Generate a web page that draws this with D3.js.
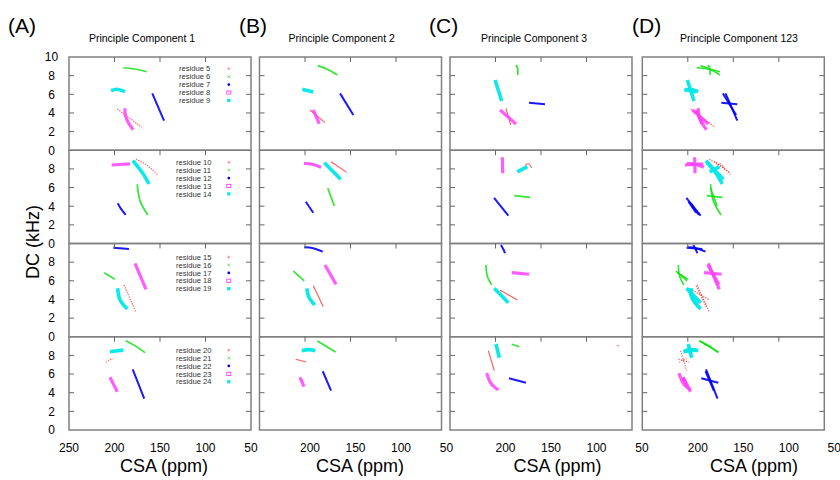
<!DOCTYPE html>
<html lang="en">
<head>
    <meta charset="UTF-8">
    <title>Principle components, CSA vs DC</title>
    <script src="https://d3js.org/d3.v7.min.js"></script>
    <style>
        body { margin: 0; background: #fff; }
        svg { font-family: "Liberation Sans", Arial, Helvetica, sans-serif; }
    </style>
</head>
<body>
    <div id="chart"></div>

    <script>
        // ---- data: [CSA (ppm), DC (kHz)] ----
        const titles = ["Principle Component 1", "Principle Component 2", "Principle Component 3", "Principle Component 123"];
        const letters = ["(A)", "(B)", "(C)", "(D)"];
        const residues = [[5, 6, 7, 8, 9], [10, 11, 12, 13, 14], [15, 16, 17, 18, 19], [20, 21, 22, 23, 24]];
        const xTicks = [200, 150, 100];
        const xLabelsFirst = [250, 200, 150, 100, 50];
        const xLabelsOther = [200, 150, 100, 50];
        const yTicks = [2, 4, 6, 8];
        const yLabelsTop = [10, 8, 6, 4, 2, 0];
        const yLabelsOther = [8, 6, 4, 2, 0];

        // each row: traces for the 5 residues in order (red, green, blue, magenta, cyan)
        const pc1 = [
            [
                [[196.9, 4.42], [170.1, 2.46]],
                [[190.3, 8.85], [177.5, 8.71], [164.6, 8.42]],
                [[158.5, 6.1], [145.6, 3.17]],
                [[188.5, 4.5], [188, 3.7], [185, 3.0], [179.5, 2.2]],
                [[203.8, 6.39], [197.6, 6.54], [188.5, 6.28]]
            ],
            [
                [[176.4, 9.03], [164.6, 8.42], [153, 7.42]],
                [[175, 6.35], [172, 4.6], [163.5, 3.06]],
                [[196.5, 4.31], [193.2, 3.77], [187.7, 3.06]],
                [[203.1, 8.42], [183, 8.53]],
                [[180, 8.88], [170.1, 7.7], [162.1, 6.38]]
            ],
            [
                [[189.6, 5.55], [176.4, 2.62]],
                [[211.2, 6.87], [199.5, 6.15]],
                [[201.3, 9.55], [184.1, 9.41]],
                [[177.5, 7.88], [165.4, 5.09]],
                [[196.5, 5.2], [194, 3.97], [185.9, 2.97]]
            ],
            [
                [[209.3, 7.24], [205, 7.55], [201.3, 7.64]],
                [[187.7, 9.58], [177.5, 9.05], [166.5, 8.29]],
                [[180, 6.51], [167.3, 3.36]],
                [[205, 5.65], [197, 4.11]],
                [[205, 8.4], [190.3, 8.58]]
            ]
        ];

        const pc2 = [
            [
                [[194.5, 4.32], [178, 2.96]],
                [[186, 9.07], [175.5, 8.68], [164.5, 8.07]],
                [[161.5, 6.1], [146.9, 3.78]],
                [[190.9, 4.32], [184.3, 2.82]],
                [[203, 6.54], [190.9, 6.25]]
            ],
            [
                [[171.4, 8.77], [154.2, 7.63]],
                [[175, 5.92], [167.8, 4.02]],
                [[199.2, 4.48], [190.9, 3.3]],
                [[201.1, 8.6], [192, 8.5], [182.4, 8.17]],
                [[178.8, 8.66], [160.8, 6.88]]
            ],
            [
                [[190.9, 5.47], [179.9, 3.22]],
                [[212.9, 7.05], [200.8, 5.98]],
                [[200.8, 9.59], [191, 9.5], [180.5, 9.12]],
                [[178, 7.69], [165.9, 5.62]],
                [[198.1, 5.19], [195.5, 4.2], [189.3, 3.4]]
            ],
            [
                [[210.2, 7.58], [198.9, 7.29]],
                [[186.5, 9.54], [166.3, 8.36]],
                [[180.5, 6.3], [171.4, 4.23]],
                [[205.5, 5.65], [201.1, 4.64]],
                [[203.6, 8.5], [196, 8.62], [188.7, 8.5]]
            ]
        ];

        const pc3 = [
            [
                [[188.5, 4.5], [183.3, 2.71]],
                [[177.5, 9.14], [175.5, 8.7], [175.6, 8.07]],
                [[163.2, 5.1], [145.6, 4.93]],
                [[195, 4.32], [177.5, 2.82]],
                [[200.5, 7.53], [193.2, 5.28]]
            ],
            [
                [[167.5, 8.4], [164, 8.55], [160.2, 8.13]],
                [[179.3, 5.13], [162.1, 4.95]],
                [[201.6, 4.88], [185.9, 2.98]],
                [[192.5, 9.24], [192.1, 7.53]],
                [[176, 7.69], [165, 8.24]]
            ],
            [
                [[195, 5.01], [176, 3.94]],
                [[210.4, 7.69], [209, 6.5], [204.2, 5.55]],
                [[194, 9.84], [191, 9.3], [189.6, 8.95]],
                [[182.2, 6.87], [162.9, 6.7]],
                [[201.3, 5.19], [185.9, 3.65]]
            ],
            [
                [[207.9, 8.5], [201.3, 6.36]],
                [[182.2, 9.19], [173.8, 8.93]],
                [[185.2, 5.54], [166.5, 5.07]],
                [[209.7, 6.1], [205, 5.0], [196.9, 4.29]],
                [[199.5, 9.22], [195.8, 7.75]]
            ]
        ];

        // one stray red point in C, bottom row
        const pc3Stray = [[67, 9.04], [64, 9.04]];

        // ---- layout ----
        const width = 840, height = 480;
        const colLeft = [69, 259.5, 450, 642.3];
        const panelW = 182;
        const top0 = 57, rowH = 93.25;
        const titleX = [142, 341.7, 534, 739];
        const letterX = [8, 239, 429, 632];
        const labelShift = [0, 5, 10, 10];
        const csaX = [164, 360, 557.5, 754];
        const legendTop = [11.8, 12, 13.6, 13.4];

        const styles = [
            { color: "#ff2020", width: 1.1, opacity: 0.75, dash: "1.3 1.2" },
            { color: "#10e010", width: 1.7, opacity: 0.85, dash: null },
            { color: "#0000ff", width: 2.0, opacity: 0.9, dash: null },
            { color: "#ff40ff", width: 3.2, opacity: 0.85, dash: null },
            { color: "#00e8e8", width: 3.6, opacity: 0.95, dash: null }
        ];

        // column D shows all three components together
        const pc123 = pc1.map((row, r) => row.map((_, k) => [pc1[r][k], pc2[r][k], pc3[r][k]]));
        const columnsData = [
            pc1.map(row => row.map(t => [t])),
            pc2.map(row => row.map(t => [t])),
            pc3.map(row => row.map(t => [t])),
            pc123
        ];

        const svg = d3.select("#chart").append("svg")
            .attr("width", width)
            .attr("height", height);

        const y = d3.scaleLinear().domain([0, 10]).range([rowH, 0]);

        columnsData.forEach((col, c) => {
            const x = d3.scaleLinear().domain([250, 50]).range([colLeft[c], colLeft[c] + panelW]);

            svg.append("text")
                .attr("x", letterX[c]).attr("y", 33)
                .attr("font-size", 21)
                .text(letters[c]);

            svg.append("text")
                .attr("x", titleX[c]).attr("y", 42)
                .attr("text-anchor", "middle")
                .attr("font-size", 10.5)
                .text(titles[c]);

            col.forEach((row, r) => {
                const g = svg.append("g").attr("transform", `translate(0,${top0 + r * rowH})`);

                const line = d3.line()
                    .x(d => x(d[0]))
                    .y(d => y(d[1]))
                    .curve(d3.curveCatmullRom);

                row.forEach((traces, k) => {
                    const s = styles[k];
                    traces.forEach(t => {
                        g.append("path")
                            .attr("d", line(t))
                            .attr("fill", "none")
                            .attr("stroke", s.color)
                            .attr("stroke-width", s.width)
                            .attr("stroke-opacity", s.opacity)
                            .attr("stroke-dasharray", (c === 0 || c === 3) ? s.dash : null)
                            .attr("stroke-linecap", "butt");
                    });
                });

                if (c === 2 && r === 3) {
                    g.append("path")
                        .attr("d", line(pc3Stray))
                        .attr("fill", "none")
                        .attr("stroke", styles[0].color)
                        .attr("stroke-opacity", 0.6)
                        .attr("stroke-width", 1);
                }

                // frame
                g.append("rect")
                    .attr("x", colLeft[c]).attr("y", 0)
                    .attr("width", panelW).attr("height", rowH)
                    .attr("fill", "none")
                    .attr("stroke", "#808080")
                    .attr("stroke-width", 1.5);

                // ticks: x at top, y on both sides
                g.selectAll(".xt").data(xTicks).enter().append("line")
                    .attr("x1", d => x(d)).attr("x2", d => x(d))
                    .attr("y1", 0).attr("y2", 5)
                    .attr("stroke", "#666").attr("stroke-width", 1);
                g.selectAll(".yl").data(yTicks).enter().append("line")
                    .attr("x1", colLeft[c]).attr("x2", colLeft[c] + 5)
                    .attr("y1", d => y(d)).attr("y2", d => y(d))
                    .attr("stroke", "#666").attr("stroke-width", 1);
                g.selectAll(".yr").data(yTicks).enter().append("line")
                    .attr("x1", colLeft[c] + panelW - 5).attr("x2", colLeft[c] + panelW)
                    .attr("y1", d => y(d)).attr("y2", d => y(d))
                    .attr("stroke", "#666").attr("stroke-width", 1);

                // y labels only on column A
                if (c === 0) {
                    g.selectAll(".ylab").data(r === 0 ? yLabelsTop : yLabelsOther).enter().append("text")
                        .attr("x", 51.5).attr("y", d => y(d))
                        .attr("dy", "0.36em")
                        .attr("text-anchor", "middle")
                        .attr("font-size", 12)
                        .text(d => d);

                    // legend
                    const leg = g.append("g").attr("transform", `translate(0,${legendTop[r]})`);
                    residues[r].forEach((res, k) => {
                        const ly = k * 7.9;
                        leg.append("text")
                            .attr("x", r === 0 ? 179 : 176).attr("y", ly)
                            .attr("dy", "0.35em")
                            .attr("font-size", 7.6)
                            .attr("fill", "#333")
                            .text("residue " + res);
                        const mx = 228.8;
                        const col = styles[k].color;
                        if (k === 0) {
                            leg.append("path").attr("d", `M${mx - 1.5},${ly}h3M${mx},${ly - 1.5}v3`)
                                .attr("stroke", col).attr("stroke-opacity", 0.6).attr("stroke-width", 0.8);
                        } else if (k === 1) {
                            leg.append("path").attr("d", `M${mx - 1.3},${ly - 1.3}l2.6,2.6M${mx - 1.3},${ly + 1.3}l2.6,-2.6`)
                                .attr("stroke", col).attr("stroke-opacity", 0.7).attr("stroke-width", 0.9);
                        } else if (k === 2) {
                            leg.append("circle").attr("cx", mx).attr("cy", ly).attr("r", 1.4)
                                .attr("fill", col);
                        } else if (k === 3) {
                            leg.append("rect").attr("x", mx - 2).attr("y", ly - 1.6).attr("width", 4).attr("height", 3.2)
                                .attr("fill", "none").attr("stroke", col).attr("stroke-width", 0.9);
                        } else {
                            leg.append("rect").attr("x", mx - 1.6).attr("y", ly - 1.6).attr("width", 3.2).attr("height", 3.2)
                                .attr("fill", col);
                        }
                    });
                }
            });

            // x labels under the bottom row
            const xl = c === 0 ? xLabelsFirst : xLabelsOther;
            svg.selectAll(null).data(xl).enter().append("text")
                .attr("x", d => x(d) + labelShift[c])
                .attr("y", 452)
                .attr("text-anchor", "middle")
                .attr("font-size", 12)
                .text(d => d);

            svg.append("text")
                .attr("x", csaX[c]).attr("y", 472)
                .attr("text-anchor", "middle")
                .attr("font-size", 18)
                .text("CSA (ppm)");
        });

        svg.append("text")
            .attr("transform", "translate(39,242) rotate(-90)")
            .attr("text-anchor", "middle")
            .attr("font-size", 18)
            .text("DC (kHz)");
    </script>
</body>
</html>
